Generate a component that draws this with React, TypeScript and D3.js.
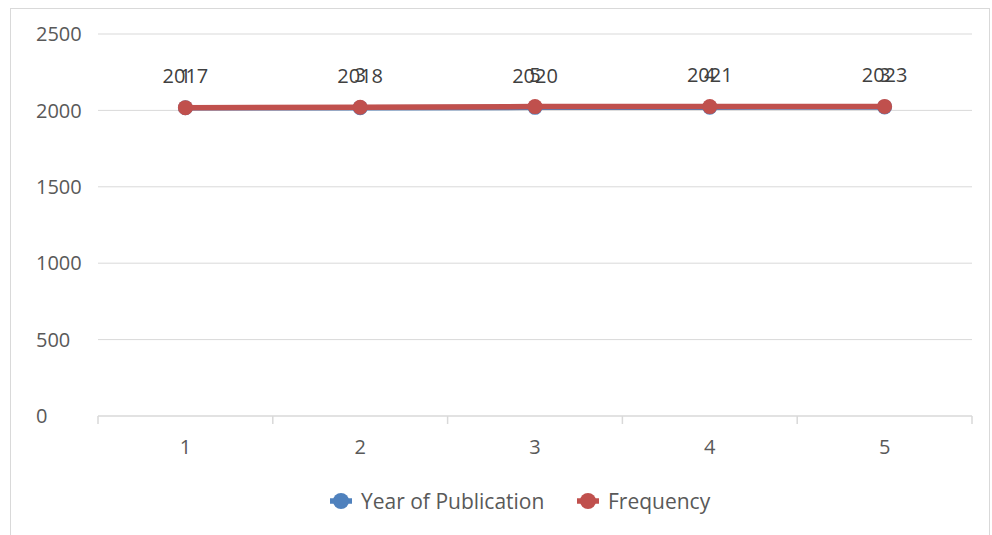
import React from "react";
import * as d3 from "d3";

const categories = ["1", "2", "3", "4", "5"];
const yearOfPublication = [2017, 2018, 2020, 2021, 2023];
const frequency = [1, 3, 5, 4, 3];
const yTicks = [0, 500, 1000, 1500, 2000, 2500];
const seriesNames = ["Year of Publication", "Frequency"];
const seriesColors = ["#4F81BD", "#C0504D"];

const W = 992;
const H = 535;
const M = { left: 98, right: 972, top: 34, bottom: 416 };
const FONT = "'Open Sans', 'DejaVu Sans', sans-serif";
const FS = 20;

export default function App() {
  const x = d3.scaleBand<string>().domain(categories).range([M.left, M.right]);
  const y = d3.scaleLinear().domain([0, 2500]).range([M.bottom, M.top]);

  const table = categories.map((c, i) => ({
    cat: c,
    "Year of Publication": yearOfPublication[i],
    Frequency: frequency[i],
  }));
  const stacked = d3.stack<any>().keys(seriesNames)(table);
  const raw = [yearOfPublication, frequency];

  const line = d3
    .line<any>()
    .x((d) => (x(d.data.cat) as number) + x.bandwidth() / 2)
    .y((d) => y(d[1]));

  const boundaries = categories.map((c) => x(c) as number).concat([M.right]);

  return (
    <svg
      width={W}
      height={H}
      style={{ position: "absolute", left: 0, top: 0, background: "#fff" }}
      fontFamily={FONT}
    >
      <rect x={10.5} y={8.5} width={979} height={530} fill="#fff" stroke="#D9D9D9" />
      {yTicks.map((t) => (
        <g key={t}>
          {t > 0 && (
            <line x1={M.left} x2={M.right} y1={y(t)} y2={y(t)} stroke="#D9D9D9" strokeWidth={1} />
          )}
          <text x={36} y={y(t)} dy="0.36em" fontSize={FS} fill="#595959">
            {t}
          </text>
        </g>
      ))}
      <line x1={M.left} x2={M.right} y1={M.bottom} y2={M.bottom} stroke="#D9D9D9" strokeWidth={1.5} />
      {boundaries.map((b, i) => (
        <line key={i} x1={b} x2={b} y1={M.bottom} y2={M.bottom + 8} stroke="#D9D9D9" strokeWidth={1.5} />
      ))}
      {categories.map((c) => (
        <text
          key={c}
          x={(x(c) as number) + x.bandwidth() / 2}
          y={447}
          dy="0.36em"
          textAnchor="middle"
          fontSize={FS}
          fill="#595959"
        >
          {c}
        </text>
      ))}
      {stacked.map((s, si) => (
        <g key={s.key}>
          <path d={line(s as any) || ""} fill="none" stroke={seriesColors[si]} strokeWidth={5.5} strokeLinejoin="round" />
          {s.map((d: any, i: number) => (
            <circle
              key={i}
              cx={(x(d.data.cat) as number) + x.bandwidth() / 2}
              cy={y(d[1])}
              r={7.5}
              fill={seriesColors[si]}
            />
          ))}
        </g>
      ))}
      {stacked.map((s, si) => (
        <g key={"l" + s.key}>
          {s.map((d: any, i: number) => (
            <text
              key={i}
              x={(x(d.data.cat) as number) + x.bandwidth() / 2}
              y={y(d[1]) - 32}
              dy="0.36em"
              textAnchor="middle"
              fontSize={FS}
              fill="#404040"
            >
              {raw[si][i]}
            </text>
          ))}
        </g>
      ))}
      {seriesNames.map((n, i) => {
        const lx = i === 0 ? 341 : 588;
        return (
          <g key={n}>
            <line x1={lx - 11} x2={lx + 11} y1={501} y2={501} stroke={seriesColors[i]} strokeWidth={5.5} />
            <circle cx={lx} cy={501} r={8} fill={seriesColors[i]} />
            <text x={lx + 20} y={501} dy="0.36em" fontSize={21} fill="#595959">
              {n}
            </text>
          </g>
        );
      })}
    </svg>
  );
}
